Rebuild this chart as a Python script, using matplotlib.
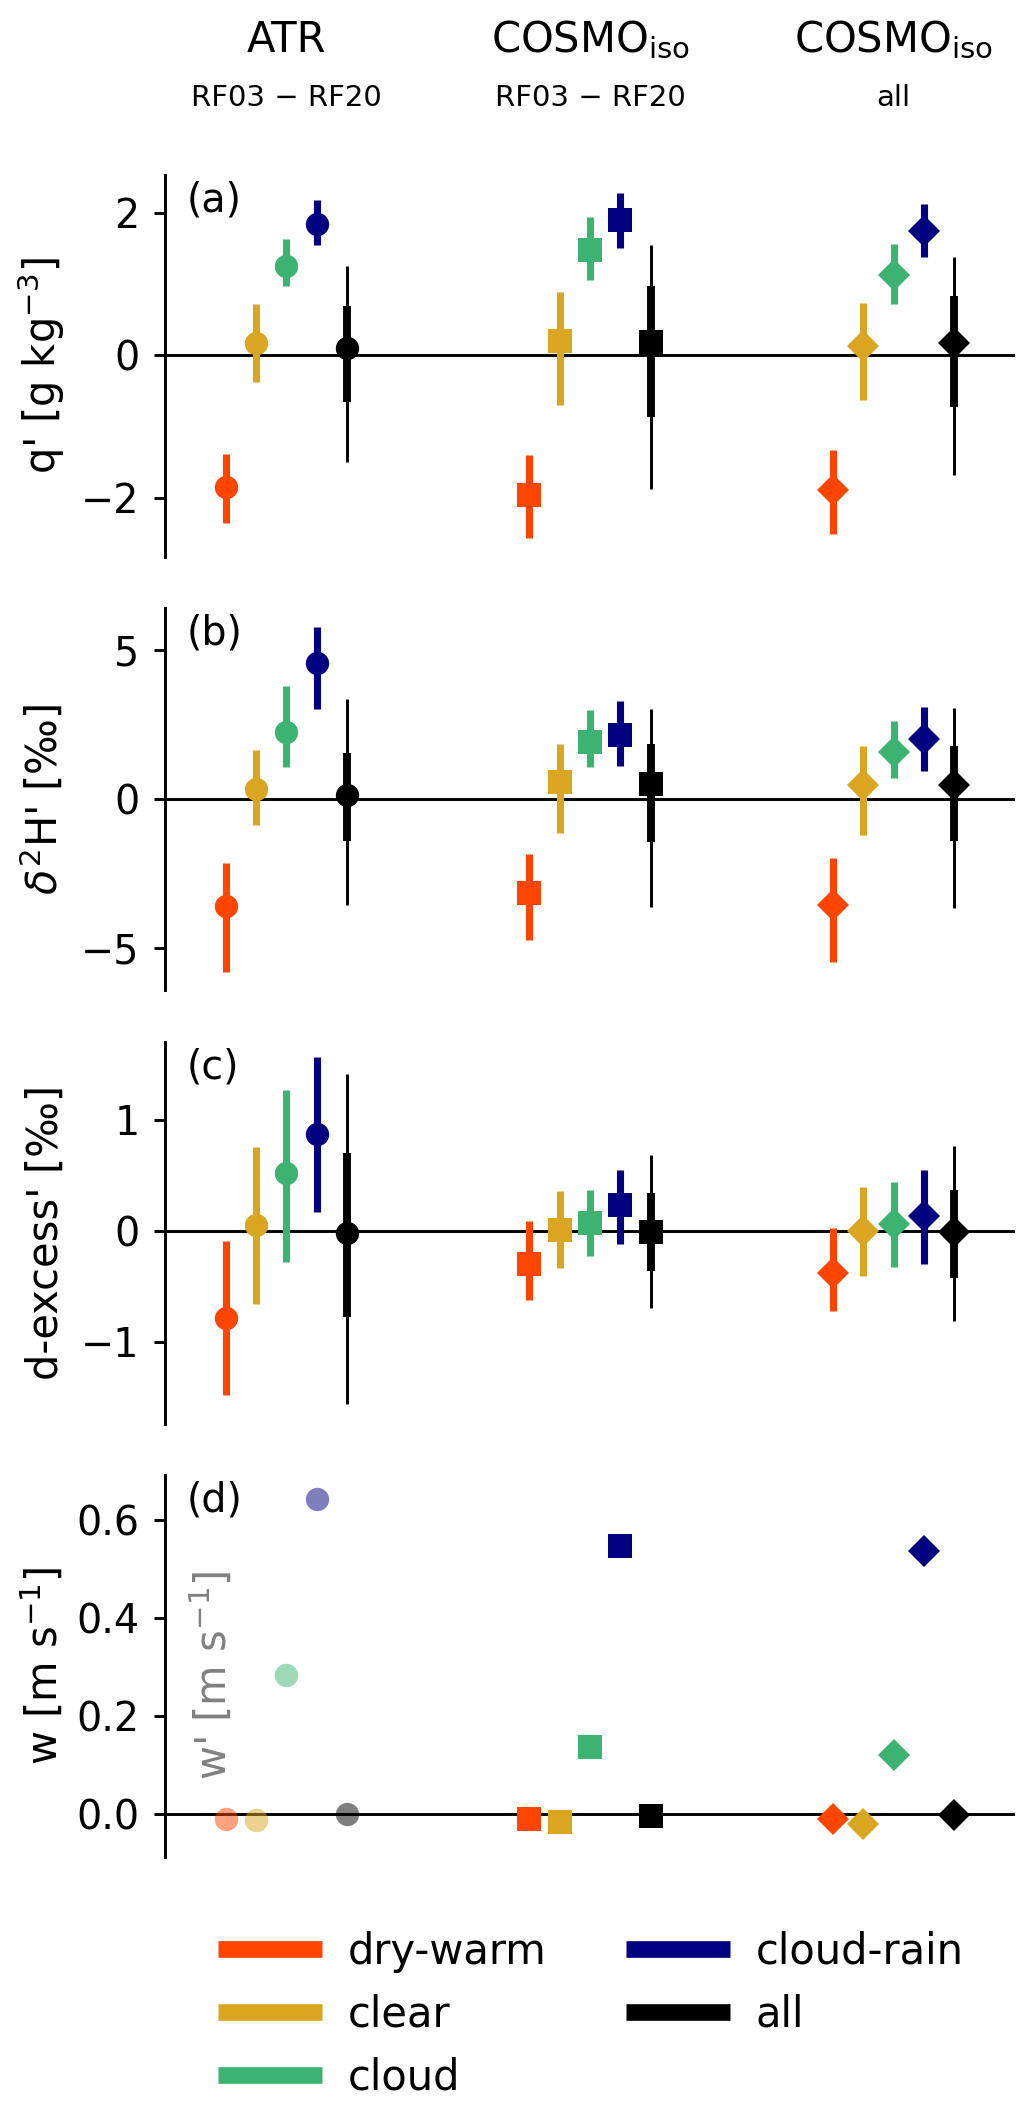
import matplotlib
matplotlib.use("Agg")
import matplotlib.pyplot as plt
from matplotlib.lines import Line2D
from matplotlib.transforms import blended_transform_factory

categories = ["dry-warm", "clear", "cloud", "cloud-rain", "all"]
colors = ["orangered", "goldenrod", "mediumseagreen", "navy", "black"]
markers = ["o", "s", "D"]          # ATR, COSMOiso RF03-RF20, COSMOiso all
titles = ["ATR", r"COSMO$_{\mathrm{iso}}$", r"COSMO$_{\mathrm{iso}}$"]
subtitles = ["RF03 \u2212 RF20", "RF03 \u2212 RF20", "all"]

# rows: ATR, COSMOiso RF03-RF20, COSMOiso all ; columns: categories
q_mean = [[-1.85, 0.18, 1.26, 1.84, 0.10],
          [-1.96, 0.20, 1.48, 1.90, 0.19],
          [-1.89, 0.13, 1.13, 1.75, 0.17]]
q_lo = [[-2.35, -0.38, 0.98, 1.55, -0.66],
        [-2.56, -0.69, 1.06, 1.51, -0.87],
        [-2.50, -0.62, 0.72, 1.38, -0.73]]
q_hi = [[-1.39, 0.72, 1.64, 2.18, 0.70],
        [-1.40, 0.89, 1.94, 2.28, 0.97],
        [-1.33, 0.74, 1.57, 2.12, 0.84]]
q_out = [[-1.49, 1.26], [-1.87, 1.55], [-1.68, 1.38]]   # outer range of "all"

d_mean = [[-3.58, 0.35, 2.26, 4.57, 0.14],
          [-3.16, 0.56, 1.92, 2.15, 0.51],
          [-3.54, 0.46, 1.57, 2.00, 0.46]]
d_lo = [[-5.78, -0.86, 1.06, 3.01, -1.42],
        [-4.72, -1.12, 1.06, 1.10, -1.44],
        [-5.45, -1.21, 0.72, 0.93, -1.42]]
d_hi = [[-2.13, 1.65, 3.78, 5.76, 1.54],
        [-1.83, 1.85, 2.99, 3.27, 1.85],
        [-1.97, 1.77, 2.60, 3.09, 1.78]]
d_out = [[-3.55, 3.36], [-3.62, 3.03], [-3.64, 3.04]]

dex_mean = [[-0.79, 0.05, 0.52, 0.87, -0.02],
            [-0.30, 0.01, 0.07, 0.23, -0.01],
            [-0.38, 0.00, 0.06, 0.13, -0.01]]
dex_lo = [[-1.48, -0.66, -0.28, 0.17, -0.78],
          [-0.62, -0.34, -0.23, -0.12, -0.36],
          [-0.72, -0.41, -0.33, -0.30, -0.43]]
dex_hi = [[-0.09, 0.75, 1.27, 1.56, 0.70],
          [0.09, 0.36, 0.37, 0.55, 0.34],
          [0.02, 0.39, 0.44, 0.55, 0.37]]
dex_out = [[-1.56, 1.41], [-0.70, 0.68], [-0.81, 0.76]]

w_mean = [[-0.010, -0.012, 0.284, 0.644, 0.001],
          [-0.009, -0.016, 0.138, 0.548, -0.003],
          [-0.010, -0.019, 0.122, 0.537, -0.001]]

plt.rcParams["font.family"] = "DejaVu Sans"
plt.rcParams["font.size"] = 10

fig = plt.figure(figsize=(1033 / 300, 2107 / 300), dpi=300)
left, width, height = 0.1597, 0.8229, 0.1813
bottoms = [0.7356, 0.5301, 0.3242, 0.1187]
axes = [fig.add_axes([left, b, width, height]) for b in bottoms]

ylabels = ["q' [g kg$^{-3}$]", "$\\delta^2$H' [\u2030]", "d-excess' [\u2030]", "w [m s$^{-1}$]"]
ylims = [(-2.83, 2.53), (-6.4, 6.4), (-1.74, 1.70), (-0.087, 0.693)]
yticks = [[-2, 0, 2], [-5, 0, 5], [-1, 0, 1], [0.0, 0.2, 0.4, 0.6]]
letters = ["(a)", "(b)", "(c)", "(d)"]


def xpos(i, j):
    return i + (j - 2) * 0.1


def msize(i):
    return 5.8 if markers[i] == "s" else 5.6


def draw_errors(ax, mean, lo, hi, out):
    for i in range(3):
        for j in range(5):
            x = xpos(i, j)
            if j == 4:
                ax.vlines(x, out[i][0], out[i][1], color=colors[j], lw=0.7, zorder=2)
                ax.vlines(x, lo[i][j], hi[i][j], color=colors[j], lw=1.9, zorder=2)
            else:
                ax.vlines(x, lo[i][j], hi[i][j], color=colors[j], lw=1.7, zorder=2)
            ax.plot(x, mean[i][j], marker=markers[i], color=colors[j], ms=msize(i),
                    mew=0, ls="none", zorder=3)


draw_errors(axes[0], q_mean, q_lo, q_hi, q_out)
draw_errors(axes[1], d_mean, d_lo, d_hi, d_out)
draw_errors(axes[2], dex_mean, dex_lo, dex_hi, dex_out)

for i in range(3):
    for j in range(5):
        axes[3].plot(xpos(i, j), w_mean[i][j], marker=markers[i], color=colors[j],
                     ms=msize(i), mew=0, ls="none", zorder=3,
                     alpha=0.5 if i == 0 else 1.0)

for k, ax in enumerate(axes):
    ax.axhline(0, color="black", lw=0.7, zorder=1)
    ax.set_xlim(-0.4, 2.4)
    ax.set_ylim(*ylims[k])
    ax.set_yticks(yticks[k])
    ax.set_xticks([])
    for s in ["top", "right", "bottom"]:
        ax.spines[s].set_visible(False)
    ax.spines["left"].set_linewidth(0.7)
    ax.tick_params(axis="y", length=2.6, width=0.7, labelsize=9.5)
    ax.set_ylabel(ylabels[k], fontsize=10)
    ax.yaxis.set_label_coords(-0.115, 0.5)
    ax.text(0.025, 0.985, letters[k], transform=ax.transAxes, ha="left", va="top",
            fontsize=9.5)

axes[3].text(0.056, 0.476, "w' [m s$^{-1}$]", transform=axes[3].transAxes,
             rotation=90, ha="center", va="center", color="grey", fontsize=10)

trans = blended_transform_factory(axes[0].transData, fig.transFigure)
for i in range(3):
    fig.text(i, 0.9753, titles[i], transform=trans, ha="center", va="baseline",
             fontsize=10)
    fig.text(i, 0.9497, subtitles[i], transform=trans, ha="center", va="baseline",
             fontsize=7)

handles = [Line2D([0], [0], color=c, lw=4, solid_capstyle="butt") for c in colors]
fig.legend(handles, categories, ncol=2, loc="upper center",
           bbox_to_anchor=(0.572, 0.1014), frameon=False, fontsize=10,
           handlelength=2.5, handletextpad=0.62, columnspacing=1.9,
           labelspacing=0.5)

fig.savefig("out.png", dpi=300)
